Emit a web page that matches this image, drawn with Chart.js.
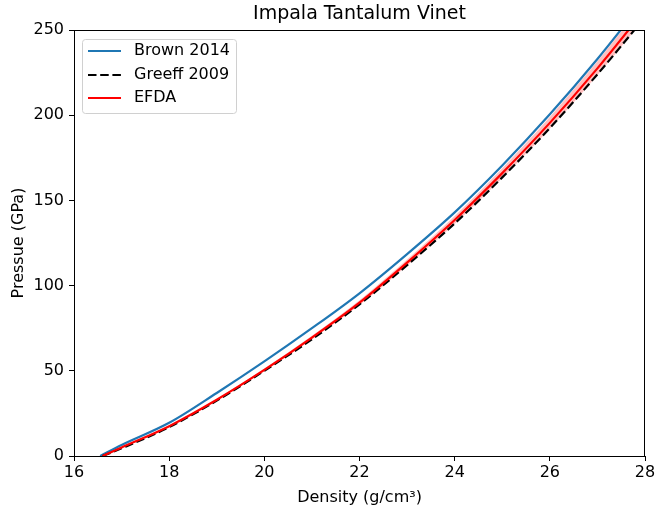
<!DOCTYPE html>
<html>
<head>
<meta charset="utf-8">
<script src="https://cdn.jsdelivr.net/npm/chart.js@4/dist/chart.umd.min.js"></script>
<style>
  html, body { margin: 0; padding: 0; background: #fff; }
  #wrap { width: 658px; height: 507px; }
</style>
</head>
<body>
<div id="wrap"><canvas id="eosChart" width="658" height="507"></canvas></div>
<script>
// values (density g/cm3, pressure GPa)
const brownRho = [16.55, 17, 18, 19, 20, 21, 22, 23, 24, 25, 26, 27, 28];
const brownP   = [0, 6.5, 19.5, 37, 55.5, 75, 95.5, 118.5, 143, 170.5, 200.5, 233, 268];

const greeffRho = [16.6, 17, 18, 19, 20, 21, 22, 23, 24, 25, 26, 27, 28];
const greeffP   = [0, 4.5, 17, 32.5, 50, 68.5, 89, 112, 136.5, 163.5, 192.5, 224, 257.5];

const efdaRho = [16.6, 17, 18, 19, 20, 21, 22, 23, 24, 25, 26, 27, 28];
const efdaP   = [0, 5, 17.5, 33, 50.5, 69.5, 90, 113.5, 138.5, 166, 195.5, 227.5, 262];
// shaded band round the EFDA curve
const efdaHigh = [0, 5.1, 17.8, 33.5, 51.3, 70.6, 91.4, 115.3, 140.8, 168.9, 199, 231.6, 266.8];
const efdaLow  = [0, 4.9, 17.2, 32.5, 49.7, 68.4, 88.6, 111.7, 136.2, 163.1, 192, 223.4, 257.2];

const legendItems = ['Brown 2014', 'Greeff 2009', 'EFDA'];
const xTicks = [16, 18, 20, 22, 24, 26, 28];
const yTicks = [0, 50, 100, 150, 200, 250];

const FONT = "'DejaVu Sans', sans-serif";
const DASH = [8.5, 3.7];

function pts(xs, ys) {
  return xs.map((x, i) => ({ x: x, y: ys[i] }));
}

// frame, legend box and title drawn the matplotlib way
const extrasPlugin = {
  id: 'extras',
  afterDraw(chart) {
    const ctx = chart.ctx;
    const a = chart.chartArea;
    ctx.save();
    ctx.strokeStyle = '#000';
    ctx.lineWidth = 1;
    ctx.strokeRect(a.left + 0.5, a.top + 0.5, a.right - a.left - 1, a.bottom - a.top);

    // title
    ctx.fillStyle = '#000';
    ctx.font = '19px ' + FONT;
    ctx.textAlign = 'center';
    ctx.textBaseline = 'middle';
    ctx.fillText('Impala Tantalum Vinet', (a.left + a.right) / 2, 14);

    // legend
    const bx = 82.5, by = 39.5, bw = 154, bh = 74;
    ctx.beginPath();
    ctx.roundRect(bx, by, bw, bh, 3);
    ctx.fillStyle = 'rgba(255,255,255,0.8)';
    ctx.fill();
    ctx.strokeStyle = '#d0d0d0';
    ctx.stroke();

    const styles = [
      { color: '#1f77b4', dash: [] },
      { color: '#000000', dash: DASH },
      { color: '#ff0000', dash: [] }
    ];
    const rows = [51, 75, 98];
    legendItems.forEach((label, i) => {
      ctx.beginPath();
      ctx.setLineDash(styles[i].dash);
      ctx.strokeStyle = styles[i].color;
      ctx.lineWidth = 2.2;
      ctx.moveTo(88, rows[i]);
      ctx.lineTo(121, rows[i]);
      ctx.stroke();
      ctx.setLineDash([]);
      ctx.fillStyle = '#000';
      ctx.font = '16px ' + FONT;
      ctx.textAlign = 'left';
      ctx.textBaseline = 'middle';
      ctx.fillText(label, 134, rows[i]);
    });
    ctx.restore();
  }
};

const ctx = document.getElementById('eosChart');
new Chart(ctx, {
  type: 'line',
  data: {
    datasets: [
      {
        label: 'EFDA band high',
        data: pts(efdaRho, efdaHigh),
        borderWidth: 0,
        pointRadius: 0,
        backgroundColor: 'rgba(255,0,0,0.25)',
        fill: '+1',
        cubicInterpolationMode: 'monotone',
        order: 5
      },
      {
        label: 'EFDA band low',
        data: pts(efdaRho, efdaLow),
        borderWidth: 0,
        pointRadius: 0,
        fill: false,
        cubicInterpolationMode: 'monotone',
        order: 5
      },
      {
        label: 'Brown 2014',
        data: pts(brownRho, brownP),
        borderColor: '#1f77b4',
        borderWidth: 2.2,
        pointRadius: 0,
        fill: false,
        cubicInterpolationMode: 'monotone',
        order: 3
      },
      {
        label: 'Greeff 2009',
        data: pts(greeffRho, greeffP),
        borderColor: '#000000',
        borderWidth: 2.2,
        borderDash: DASH,
        pointRadius: 0,
        fill: false,
        cubicInterpolationMode: 'monotone',
        order: 2
      },
      {
        label: 'EFDA',
        data: pts(efdaRho, efdaP),
        borderColor: '#ff0000',
        borderWidth: 2.2,
        pointRadius: 0,
        fill: false,
        cubicInterpolationMode: 'monotone',
        order: 1
      }
    ]
  },
  options: {
    responsive: false,
    animation: false,
    devicePixelRatio: 1,
    layout: { padding: { top: 30, right: 13, left: 0, bottom: 0 } },
    plugins: {
      legend: { display: false },
      title: { display: false },
      tooltip: { enabled: false }
    },
    scales: {
      x: {
        type: 'linear',
        min: 16,
        max: 28,
        afterBuildTicks: (scale) => { scale.ticks = xTicks.map(v => ({ value: v })); },
        afterFit: (scale) => { scale.height = 51; },
        grid: { drawOnChartArea: false, drawTicks: true, tickLength: 5, tickColor: '#000' },
        border: { display: true, color: '#000', width: 1 },
        ticks: { color: '#000', font: { family: FONT, size: 16 }, padding: 2, maxRotation: 0 },
        title: {
          display: true,
          text: 'Density (g/cm³)',
          color: '#000',
          font: { family: FONT, size: 16 },
          padding: { top: 0, bottom: 0 }
        }
      },
      y: {
        type: 'linear',
        min: 0,
        max: 250,
        afterBuildTicks: (scale) => { scale.ticks = yTicks.map(v => ({ value: v })); },
        afterFit: (scale) => { scale.width = 74; },
        grid: { drawOnChartArea: false, drawTicks: true, tickLength: 5, tickColor: '#000' },
        border: { display: true, color: '#000', width: 1 },
        ticks: { color: '#000', font: { family: FONT, size: 16 }, padding: 5 },
        title: {
          display: true,
          text: 'Pressue (GPa)',
          color: '#000',
          font: { family: FONT, size: 16 },
          padding: { top: 9, bottom: 0 }
        }
      }
    }
  },
  plugins: [extrasPlugin]
});
</script>
</body>
</html>
